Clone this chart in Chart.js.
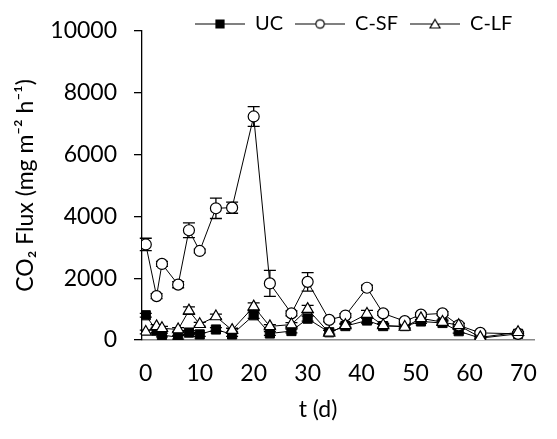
<!DOCTYPE html>
<html>
<head>
<meta charset="utf-8">
<script src="https://cdn.jsdelivr.net/npm/chart.js@4.4.1/dist/chart.umd.min.js"></script>
<style>
  body { margin: 0; background: #fff; }
</style>
</head>
<body>
<canvas id="myChart" width="557" height="439"></canvas>
<script>
// sampling days (x) and fluxes
const days = [0, 2, 3, 6, 8, 10, 13, 16, 20, 23, 27, 30, 34, 37, 41, 44, 48, 51, 55, 58, 62, 69];
const ucFlux = [800, 300, 160, 90, 240, 180, 340, 180, 800, 210, 290, 690, 250, 450, 630, 450, 450, 600, 550, 285, 60, 200];
const csfFlux = [3090, 1420, 2460, 1790, 3550, 2880, 4260, 4280, 7230, 1830, 860, 1880, 650, 790, 1690, 860, 610, 820, 860, 475, 230, 200];
const clfFlux = [260, 440, 380, 340, 950, 510, 760, 320, 1080, 440, 500, 1000, 230, 475, 840, 475, 420, 700, 580, 475, 85, 250];
const ucErr = [60, 60, 60, 60, 60, 60, 60, 60, 100, 60, 60, 80, 60, 60, 80, 60, 60, 60, 60, 60, 30, 30];
const csfErr = [200, 80, 80, 100, 240, 60, 330, 180, 320, 420, 80, 300, 60, 60, 80, 60, 60, 60, 60, 60, 60, 60];
const clfErr = [60, 60, 60, 60, 120, 60, 80, 60, 120, 60, 60, 120, 80, 60, 120, 60, 60, 60, 60, 60, 30, 30];
const seriesNames = ["UC", "C-SF", "C-LF"];
const xTicks = [0, 10, 20, 30, 40, 50, 60, 70];
const xTitle = "t (d)";
const yTitle = "CO\u2082 Flux (mg m\u207B\u00B2 h\u207B\u00B9)";

const errorSets = [ucErr, csfErr, clfErr];
const toPoints = (vals) => vals.map((v, i) => ({x: days[i], y: v}));

// little "—■—" style icons for the legend
function legendIcon(kind) {
    const c = document.createElement("canvas");
    c.width = 50;
    c.height = 15;
    const g = c.getContext("2d");
    g.strokeStyle = "#000";
    g.lineWidth = 1.2;
    g.beginPath();
    g.moveTo(0, 7.5);
    g.lineTo(50, 7.5);
    g.stroke();
    g.fillStyle = kind === "rect" ? "#000" : "#fff";
    g.beginPath();
    if (kind === "rect") g.rect(21, 3.5, 8, 8);
    else if (kind === "circle") g.arc(25, 7.5, 4.2, 0, Math.PI * 2);
    else { g.moveTo(25, 3); g.lineTo(30, 11.5); g.lineTo(20, 11.5); g.closePath(); }
    g.fill();
    g.stroke();
    return c;
}
const icons = [legendIcon("rect"), legendIcon("circle"), legendIcon("triangle")];

const errorBars = {
    id: "errorBars",
    beforeDatasetsDraw(chart) {
        const ctx = chart.ctx;
        const yScale = chart.scales.y;
        ctx.save();
        ctx.strokeStyle = "#000";
        ctx.lineWidth = 1.3;
        chart.data.datasets.forEach((ds, i) => {
            const meta = chart.getDatasetMeta(i);
            meta.data.forEach((pt, j) => {
                const v = ds.data[j].y;
                const e = errorSets[i][j];
                const yTop = yScale.getPixelForValue(v + e);
                const yBot = yScale.getPixelForValue(v - e);
                ctx.beginPath();
                ctx.moveTo(pt.x, yTop); ctx.lineTo(pt.x, yBot);
                ctx.moveTo(pt.x - 6, yTop); ctx.lineTo(pt.x + 6, yTop);
                ctx.moveTo(pt.x - 6, yBot); ctx.lineTo(pt.x + 6, yBot);
                ctx.stroke();
            });
        });
        ctx.restore();
    }
};

// legend takes (almost) no room in the layout; then give it its box back,
// sitting on the top of the plot like the original
const legendShift = {
    id: "legendShift",
    afterLayout(chart) {
        const lg = chart.legend;
        lg.left += 183; lg.right += 183;
        lg.top = 2;
        lg.height = 40;
        lg.bottom = lg.top + lg.height;
    }
};

const xTitlePlugin = {
    id: "xTitle",
    afterDraw(chart) {
        const ctx = chart.ctx;
        ctx.save();
        ctx.font = "23px Lato";
        ctx.fillStyle = "#000";
        ctx.textAlign = "center";
        ctx.textBaseline = "middle";
        ctx.fillText(xTitle, chart.chartArea.left + 176, 410);
        ctx.restore();
    }
};

Chart.defaults.font.family = "Lato";
Chart.defaults.color = "#000";

const ctx = document.getElementById("myChart").getContext("2d");
new Chart(ctx, {
    type: "line",
    data: {
        datasets: [
            {
                label: seriesNames[0],
                data: toPoints(ucFlux),
                borderColor: "#000",
                borderWidth: 1,
                pointStyle: "rect",
                pointRadius: 6.5,
                pointBackgroundColor: "#000",
                pointBorderColor: "#000",
                pointBorderWidth: 1,
                order: 3
            },
            {
                label: seriesNames[1],
                data: toPoints(csfFlux),
                borderColor: "#000",
                borderWidth: 1,
                pointStyle: "circle",
                pointRadius: 5.5,
                pointBackgroundColor: "#fff",
                pointBorderColor: "#000",
                pointBorderWidth: 1.2,
                order: 2
            },
            {
                label: seriesNames[2],
                data: toPoints(clfFlux),
                borderColor: "#000",
                borderWidth: 1,
                pointStyle: "triangle",
                pointRadius: 6.5,
                pointBackgroundColor: "#fff",
                pointBorderColor: "#000",
                pointBorderWidth: 1.2,
                order: 1
            }
        ]
    },
    options: {
        responsive: false,
        animation: false,
        devicePixelRatio: 1,
        layout: {padding: {top: 23, right: 5, left: 0, bottom: 0}},
        scales: {
            x: {
                type: "linear",
                min: -0.7,
                max: 72,
                afterBuildTicks: (s) => { s.ticks = xTicks.map((v) => ({value: v})); },
                afterFit: (s) => { s.height = 99; },
                grid: {display: false, drawTicks: false},
                border: {color: "#888", width: 1.5},
                ticks: {font: {size: 23}, padding: 20, maxRotation: 0, callback: (v) => String(v)}
            },
            y: {
                min: 0,
                max: 10000,
                afterFit: (s) => { s.width = 142; },
                grid: {drawOnChartArea: false, drawTicks: true, tickLength: 8, color: "#000", lineWidth: 1.3},
                border: {color: "#000", width: 1.3},
                ticks: {stepSize: 2000, font: {size: 23}, padding: 17, callback: (v) => String(v)},
                title: {display: true, text: yTitle, font: {size: 23}, padding: {top: 12, bottom: 0}}
            }
        },
        plugins: {
            tooltip: {enabled: false},
            legend: {
                position: "top",
                align: "start",
                maxHeight: 1,
                labels: {
                    usePointStyle: true,
                    pointStyleWidth: 50,
                    padding: 12,
                    font: {size: 20},
                    generateLabels: (chart) => chart.data.datasets.map((ds, i) => ({
                        text: ds.label,
                        pointStyle: icons[i],
                        fillStyle: "#000",
                        strokeStyle: "#000",
                        fontColor: "#000",
                        lineWidth: 0,
                        hidden: false,
                        datasetIndex: i
                    }))
                }
            }
        }
    },
    plugins: [errorBars, legendShift, xTitlePlugin]
});
</script>
</body>
</html>
